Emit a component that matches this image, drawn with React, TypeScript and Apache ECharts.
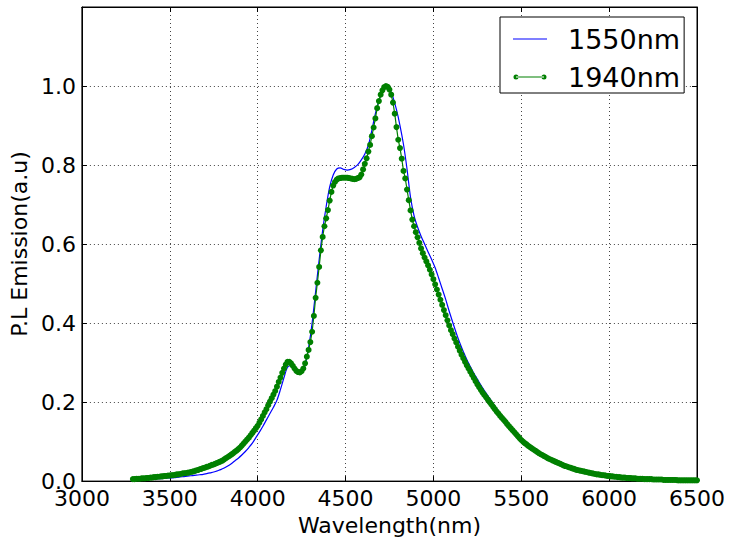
import React, { useEffect, useRef } from "react";
import * as echarts from "echarts";

// 1940nm excitation: sampled every 10 nm starting at 3290 nm
const green1940Start = 3290;
const green1940Step = 10;
const green1940 = [
  0.005, 0.005, 0.006, 0.006, 0.006, 0.007, 0.007, 0.007, 0.008, 0.008, 0.009,
  0.009, 0.010, 0.010, 0.011, 0.011, 0.012, 0.012, 0.013, 0.013, 0.014,
  0.014, 0.015, 0.015, 0.016, 0.017, 0.017, 0.018, 0.019, 0.020, 0.020,
  0.021, 0.022, 0.023, 0.024, 0.025, 0.027, 0.028, 0.030, 0.031, 0.033,
  0.034, 0.036, 0.037, 0.039, 0.041, 0.042, 0.044, 0.046, 0.048, 0.050,
  0.052, 0.055, 0.058, 0.061, 0.064, 0.067, 0.070, 0.074, 0.077, 0.081,
  0.085, 0.090, 0.095, 0.100, 0.105, 0.110, 0.116, 0.122, 0.128, 0.134,
  0.140, 0.148, 0.156, 0.165, 0.174, 0.182, 0.192, 0.201, 0.210, 0.219,
  0.228, 0.239, 0.251, 0.262, 0.274, 0.285, 0.295, 0.302, 0.302, 0.298,
  0.292, 0.285, 0.279, 0.276, 0.275, 0.278, 0.285, 0.298, 0.315, 0.332,
  0.352, 0.378, 0.418, 0.464, 0.502, 0.542, 0.584, 0.618, 0.645, 0.665,
  0.686, 0.710, 0.732, 0.748, 0.757, 0.763, 0.766, 0.767, 0.768, 0.768,
  0.768, 0.768, 0.767, 0.766, 0.765, 0.764, 0.765, 0.767, 0.769, 0.776,
  0.789, 0.803, 0.817, 0.834, 0.851, 0.873, 0.895, 0.918, 0.944, 0.962,
  0.978, 0.989, 0.997, 1.000, 0.998, 0.991, 0.978, 0.958, 0.930, 0.896,
  0.864, 0.843, 0.816, 0.785, 0.766, 0.738, 0.711, 0.685, 0.662, 0.645,
  0.630, 0.617, 0.603, 0.589, 0.577, 0.566, 0.556, 0.546, 0.535, 0.523,
  0.511, 0.498, 0.485, 0.472, 0.459, 0.446, 0.433, 0.420, 0.407, 0.394,
  0.382, 0.372, 0.361, 0.351, 0.340, 0.330, 0.320, 0.311, 0.302, 0.293,
  0.285, 0.277, 0.269, 0.261, 0.253, 0.245, 0.238, 0.231, 0.224, 0.218,
  0.212, 0.206, 0.200, 0.194, 0.188, 0.182, 0.176, 0.171, 0.165, 0.160,
  0.155, 0.150, 0.144, 0.139, 0.134, 0.129, 0.124, 0.119, 0.114, 0.109,
  0.104, 0.100, 0.096, 0.093, 0.089, 0.086, 0.083, 0.080, 0.077, 0.074,
  0.071, 0.068, 0.066, 0.063, 0.061, 0.058, 0.056, 0.054, 0.052, 0.050,
  0.048, 0.046, 0.044, 0.042, 0.040, 0.038, 0.037, 0.035, 0.034, 0.032,
  0.031, 0.029, 0.028, 0.027, 0.026, 0.025, 0.024, 0.023, 0.022, 0.021,
  0.020, 0.019, 0.018, 0.017, 0.017, 0.016, 0.015, 0.015, 0.014, 0.013,
  0.013, 0.012, 0.012, 0.011, 0.011, 0.010, 0.010, 0.009, 0.009, 0.009,
  0.008, 0.008, 0.008, 0.007, 0.007, 0.007, 0.006, 0.006, 0.006, 0.006,
  0.005, 0.005, 0.005, 0.005, 0.005, 0.004, 0.004, 0.004, 0.004, 0.004,
  0.004, 0.003, 0.003, 0.003, 0.003, 0.003, 0.003, 0.003, 0.003, 0.002,
  0.002, 0.002, 0.002, 0.002, 0.002, 0.002, 0.002, 0.002, 0.002, 0.002,
  0.002,
];

// 1550nm excitation: sampled every 20 nm starting at 3290 nm
const blue1550Start = 3290;
const blue1550Step = 20;
const blue1550 = [
  0.003, 0.003, 0.004, 0.004, 0.004, 0.005, 0.005, 0.006, 0.006, 0.007,
  0.008, 0.008, 0.009, 0.010, 0.011, 0.012, 0.013, 0.014, 0.015, 0.016,
  0.017, 0.019, 0.021, 0.023, 0.026, 0.029, 0.033, 0.038, 0.044, 0.051,
  0.058, 0.066, 0.075, 0.085, 0.096, 0.110, 0.124, 0.139, 0.155, 0.171,
  0.187, 0.205, 0.232, 0.262, 0.288, 0.292, 0.283, 0.273, 0.274, 0.293,
  0.338, 0.400, 0.480, 0.560, 0.635, 0.695, 0.745, 0.775, 0.790, 0.793,
  0.789, 0.787, 0.789, 0.794, 0.801, 0.813, 0.828, 0.850, 0.888, 0.930,
  0.963, 0.987, 1.000, 0.993, 0.972, 0.940, 0.900, 0.852, 0.790, 0.718,
  0.672, 0.643, 0.620, 0.600, 0.580, 0.561, 0.540, 0.514, 0.487, 0.460,
  0.430, 0.402, 0.375, 0.350, 0.328, 0.308, 0.290, 0.273, 0.258, 0.243,
  0.229, 0.216, 0.203, 0.190, 0.178, 0.166, 0.154, 0.143, 0.132, 0.121,
  0.110, 0.101, 0.094, 0.088, 0.082, 0.076, 0.070, 0.065, 0.060, 0.055,
  0.051, 0.047, 0.043, 0.039, 0.036, 0.033, 0.030, 0.028, 0.026, 0.024,
  0.022, 0.020, 0.018, 0.017, 0.015, 0.014, 0.013, 0.012, 0.011, 0.010,
  0.009, 0.008, 0.008, 0.007, 0.007, 0.006, 0.005, 0.005, 0.005, 0.004,
  0.004, 0.004, 0.003, 0.003, 0.003, 0.003, 0.002, 0.002, 0.002, 0.002,
  0.002,
];

const seriesNames = ["1550nm", "1940nm"];
const xMin = 3000;
const xMax = 6500;
const xInterval = 500;
const yMin = 0;
const yMax = 1.2;
const yInterval = 0.2;
const xTitle = "Wavelength(nm)";
const yTitle = "P.L Emission(a.u)";

const FONT = "DejaVu Sans";

const bluePairs = blue1550.map((v, i) => [blue1550Start + i * blue1550Step, v]);
const greenPairs = green1940.map((v, i) => [green1940Start + i * green1940Step, v]);

const blueIcon = "path://M0,0 L0,0 M0,3.5 L34,3.5 L34,4.5 L0,4.5 Z M34,8 L34,8";
const greenIcon =
  "path://M0,0 L0,0 M3,3.5 L31,3.5 L31,4.5 L3,4.5 Z M0.5,4 A2.5,2.5 0 1,0 5.5,4 A2.5,2.5 0 1,0 0.5,4 Z M28.5,4 A2.5,2.5 0 1,0 33.5,4 A2.5,2.5 0 1,0 28.5,4 Z M34,8 L34,8";

export default function App() {
  const ref = useRef<HTMLDivElement>(null);
  useEffect(() => {
    if (!ref.current) return;
    const chart = echarts.init(ref.current, undefined, { renderer: "svg" });
    const gridLine = { show: true, lineStyle: { color: "#444", width: 1, type: [1, 3] as any } };
    chart.setOption({
      animation: false,
      backgroundColor: "#fff",
      textStyle: { fontFamily: FONT },
      grid: {
        left: 81,
        right: 32,
        top: 7,
        bottom: 56,
        show: true,
        borderColor: "#000",
        borderWidth: 1,
        backgroundColor: "transparent",
      },
      legend: {
        orient: "vertical",
        left: 500,
        top: 17,
        data: [
          { name: seriesNames[0], icon: blueIcon },
          { name: seriesNames[1], icon: greenIcon },
        ],
        itemWidth: 34,
        itemHeight: 8,
        itemGap: 8,
        padding: [7, 4, 1, 13],
        backgroundColor: "#fff",
        borderColor: "#000",
        borderWidth: 1,
        borderRadius: 0,
        itemStyle: { borderWidth: 0 },
        textStyle: {
          fontFamily: FONT,
          fontSize: 27,
          color: "#000",
          lineHeight: 30,
          padding: [0, 0, 0, 16],
        },
      },
      xAxis: [
        {
          type: "value",
          min: xMin,
          max: xMax,
          interval: xInterval,
          position: "bottom",
          name: xTitle,
          nameLocation: "middle",
          nameGap: 25,
          nameTextStyle: { fontFamily: FONT, fontSize: 22, color: "#000" },
          axisLine: { show: true, onZero: false, lineStyle: { color: "#000", width: 1 } },
          axisTick: { show: true, inside: true, length: 5, lineStyle: { color: "#000" } },
          axisLabel: {
            fontFamily: FONT,
            fontSize: 22,
            color: "#000",
            margin: 6,
            formatter: (v: number) => String(v),
          },
          splitLine: gridLine,
        },
        {
          type: "value",
          min: xMin,
          max: xMax,
          interval: xInterval,
          position: "top",
          axisLine: { show: true, onZero: false, lineStyle: { color: "#000", width: 1 } },
          axisTick: { show: true, inside: true, length: 5, lineStyle: { color: "#000" } },
          axisLabel: { show: false },
          splitLine: { show: false },
        },
      ],
      yAxis: [
        {
          type: "value",
          min: yMin,
          max: yMax,
          interval: yInterval,
          position: "left",
          name: yTitle,
          nameLocation: "middle",
          nameGap: 46,
          nameTextStyle: { fontFamily: FONT, fontSize: 22, color: "#000" },
          axisLine: { show: true, onZero: false, lineStyle: { color: "#000", width: 1 } },
          axisTick: { show: true, inside: true, length: 5, lineStyle: { color: "#000" } },
          axisLabel: {
            fontFamily: FONT,
            fontSize: 22,
            color: "#000",
            margin: 6,
            formatter: (v: number) => (v > 1.0001 ? "" : v.toFixed(1)),
          },
          splitLine: gridLine,
        },
        {
          type: "value",
          min: yMin,
          max: yMax,
          interval: yInterval,
          position: "right",
          axisLine: { show: true, onZero: false, lineStyle: { color: "#000", width: 1 } },
          axisTick: { show: true, inside: true, length: 5, lineStyle: { color: "#000" } },
          axisLabel: { show: false },
          splitLine: { show: false },
        },
      ],
      series: [
        {
          name: seriesNames[0],
          type: "line",
          data: bluePairs,
          xAxisIndex: 0,
          yAxisIndex: 0,
          symbol: "none",
          smooth: 0.3,
          color: "#0000ff",
          lineStyle: { color: "#0000ff", width: 1.2 },
          z: 2,
        },
        {
          name: seriesNames[1],
          type: "line",
          data: greenPairs,
          xAxisIndex: 0,
          yAxisIndex: 0,
          symbol: "circle",
          symbolSize: 6,
          showAllSymbol: true,
          color: "#008000",
          itemStyle: { color: "#008000", borderWidth: 0 },
          lineStyle: { color: "#008000", width: 1.2 },
          z: 3,
        },
      ],
    });
    return () => chart.dispose();
  }, []);
  return (
    <div
      ref={ref}
      style={{ position: "absolute", left: 0, top: 0, width: 729, height: 541 }}
    />
  );
}
